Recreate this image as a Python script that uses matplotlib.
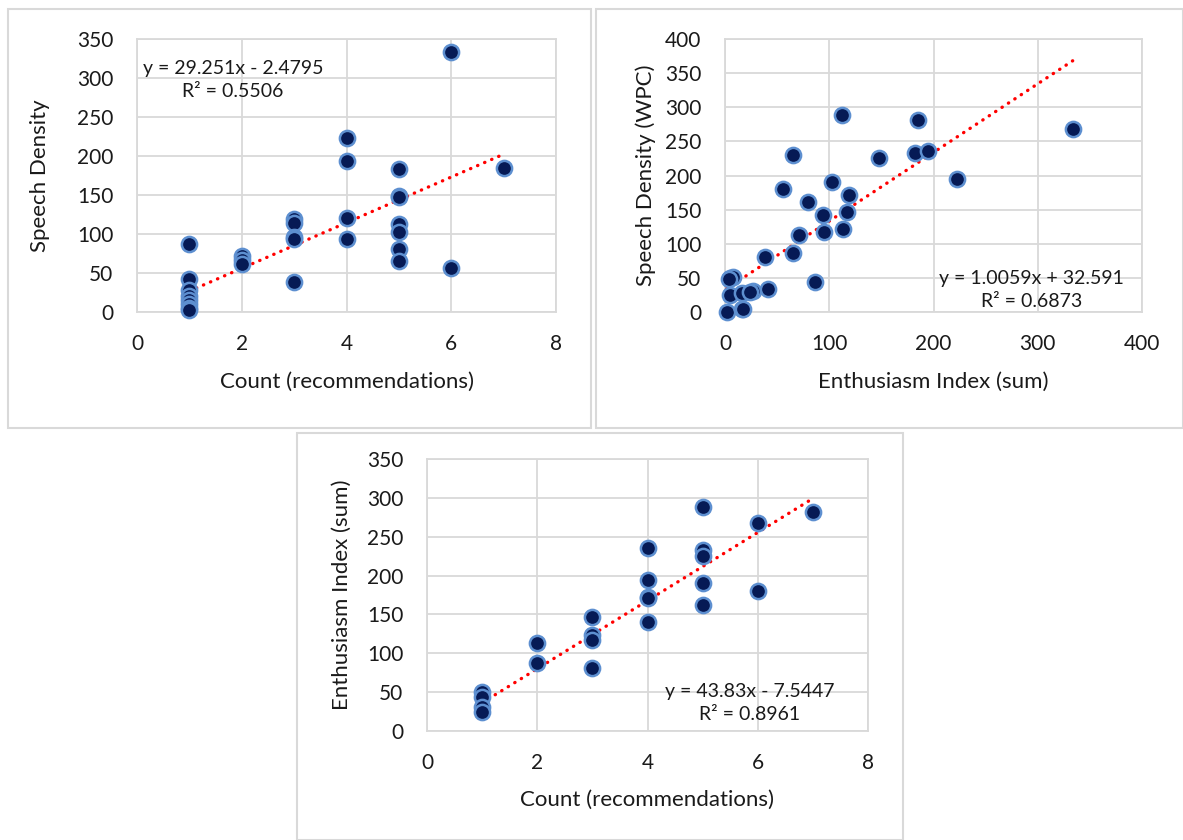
import matplotlib.pyplot as plt
from matplotlib.patches import Rectangle
import numpy as np

# Panel 1: Count vs Speech Density
cuenta1 = [1, 1, 1, 1, 1, 1, 1, 1,
           2, 2, 2,
           3, 3, 3, 3, 3,
           4, 4, 4, 4,
           5, 5, 5, 5, 5, 5, 5,
           6, 6, 7]
densidad1 = [87, 42, 28, 21, 15, 10, 5, 3,
             72, 67, 62,
             119, 114, 96, 94, 39,
             223, 194, 120, 94,
             183, 149, 147, 113, 103, 81, 65,
             333, 57, 185]
m1, b1 = 29.251, -2.4795
r2_1 = 0.5506

# Panel 2: Enthusiasm vs Speech Density
entusiasmo2 = [112, 185.5, 333.5, 65.5, 148, 182.3, 194.4, 222.9, 56, 102.3,
               119, 80, 116.7, 94.3, 95, 113, 71, 65.5, 38.4, 86.3,
               4.8, 8, 3.8, 4.8, 16, 27.2, 23.7, 41, 1.6, 16, 17.6]
densidad2 = [288.6, 281.3, 267.6, 230, 225, 232.5, 236.4, 194.4, 180.2, 191,
             171.4, 161.6, 147, 142, 117.7, 121, 112.8, 86.9, 81, 44.4,
             49.3, 50.8, 49, 24.9, 27.3, 30.8, 29.3, 33.7, 0.5, 3.9, 3.9]
m2, b2 = 1.0059, 32.591
r2_2 = 0.6873

# Panel 3: Count vs Enthusiasm
cuenta3 = [1, 1, 1, 1,
           2, 2,
           3, 3, 3, 3,
           4, 4, 4, 4, 4,
           5, 5, 5, 5, 5,
           6, 6, 7]
entusiasmo3 = [50.6, 44, 31, 24,
               112.8, 87,
               147, 123.5, 117, 80.6,
               236, 194, 173, 171, 140.7,
               288.7, 233, 225, 191, 162,
               267.2, 180.6, 281.4]
m3, b3 = 43.83, -7.5447
r2_3 = 0.8961

plt.rcParams['font.family'] = ['Lato', 'DejaVu Sans']
color_texto = '#1a1a1a'
color_grid = '#d9d9d9'


def eq_text(m, b, r2):
    signo = '-' if b < 0 else '+'
    return "y = {0}x {1} {2}\nR² = {3}".format(m, signo, abs(b), r2)


def panel(ax, x, y, m, b, r2, xlim, xticks, ylim, yticks, xlabel, ylabel, tpos, ylab_x, xlab_y):
    ax.set_xlim(*xlim)
    ax.set_ylim(*ylim)
    ax.set_xticks(xticks)
    ax.set_yticks(yticks)
    ax.grid(True, color=color_grid, linewidth=1.3)
    ax.set_axisbelow(True)
    for s in ax.spines.values():
        s.set_color(color_grid)
        s.set_linewidth(1.3)
    ax.tick_params(length=0, labelsize=15, colors=color_texto)
    ax.tick_params(axis='x', pad=16)
    ax.tick_params(axis='y', pad=17)
    xt = np.linspace(min(x), max(x), 200)
    ax.plot(xt, m*xt + b, color='#ff0000', linewidth=2.4,
            linestyle=(0, (0.1, 2.2)), dash_capstyle='round', zorder=3)
    ax.scatter(x, y, s=120, color='#061a55', edgecolors='#5d8fd0',
               linewidths=1.8, zorder=4, clip_on=False)
    ax.set_xlabel(xlabel, fontsize=16, color=color_texto)
    ax.set_ylabel(ylabel, fontsize=16, color=color_texto)
    ax.yaxis.set_label_coords(ylab_x, 0.5)
    ax.xaxis.set_label_coords(0.5, xlab_y)
    ax.text(tpos[0], tpos[1], eq_text(m, b, r2), transform=ax.transAxes,
            ha='center', va='center', fontsize=14, color=color_texto,
            linespacing=1.45, zorder=5)


def main():
    fig = plt.figure(figsize=(11.83, 8.4), dpi=100)
    fig.patch.set_facecolor('white')

    # chart borders
    for (x0, y0, x1, y1) in [(8, 9, 591, 428), (596, 9, 1183, 428), (297, 433, 903, 840)]:
        fig.patches.append(Rectangle((x0/1183, 1 - y1/840), (x1 - x0)/1183, (y1 - y0)/840,
                                     transform=fig.transFigure, fill=False,
                                     edgecolor=color_grid, linewidth=1.5))

    ax1 = fig.add_axes([137/1183, 1 - 312/840, 419/1183, 273/840])
    panel(ax1, cuenta1, densidad1, m1, b1, r2_1, (0, 8), [0, 2, 4, 6, 8],
          (0, 350), range(0, 351, 50), 'Count (recommendations)', 'Speech Density',
          (0.229, 0.85), -0.208, -0.22)

    ax2 = fig.add_axes([725/1183, 1 - 312/840, 417/1183, 273/840])
    panel(ax2, entusiasmo2, densidad2, m2, b2, r2_2, (0, 400), [0, 100, 200, 300, 400],
          (0, 400), range(0, 401, 50), 'Enthusiasm Index (sum)', 'Speech Density (WPC)',
          (0.736, 0.08), -0.165, -0.22)

    ax3 = fig.add_axes([427/1183, 1 - 731/840, 441/1183, 272/840])
    panel(ax3, cuenta3, entusiasmo3, m3, b3, r2_3, (0, 8), [0, 2, 4, 6, 8],
          (0, 350), range(0, 351, 50), 'Count (recommendations)', 'Enthusiasm Index (sum)',
          (0.732, 0.103), -0.17, -0.217)

    fig.savefig('out.png', dpi=100, facecolor='white')


main()
